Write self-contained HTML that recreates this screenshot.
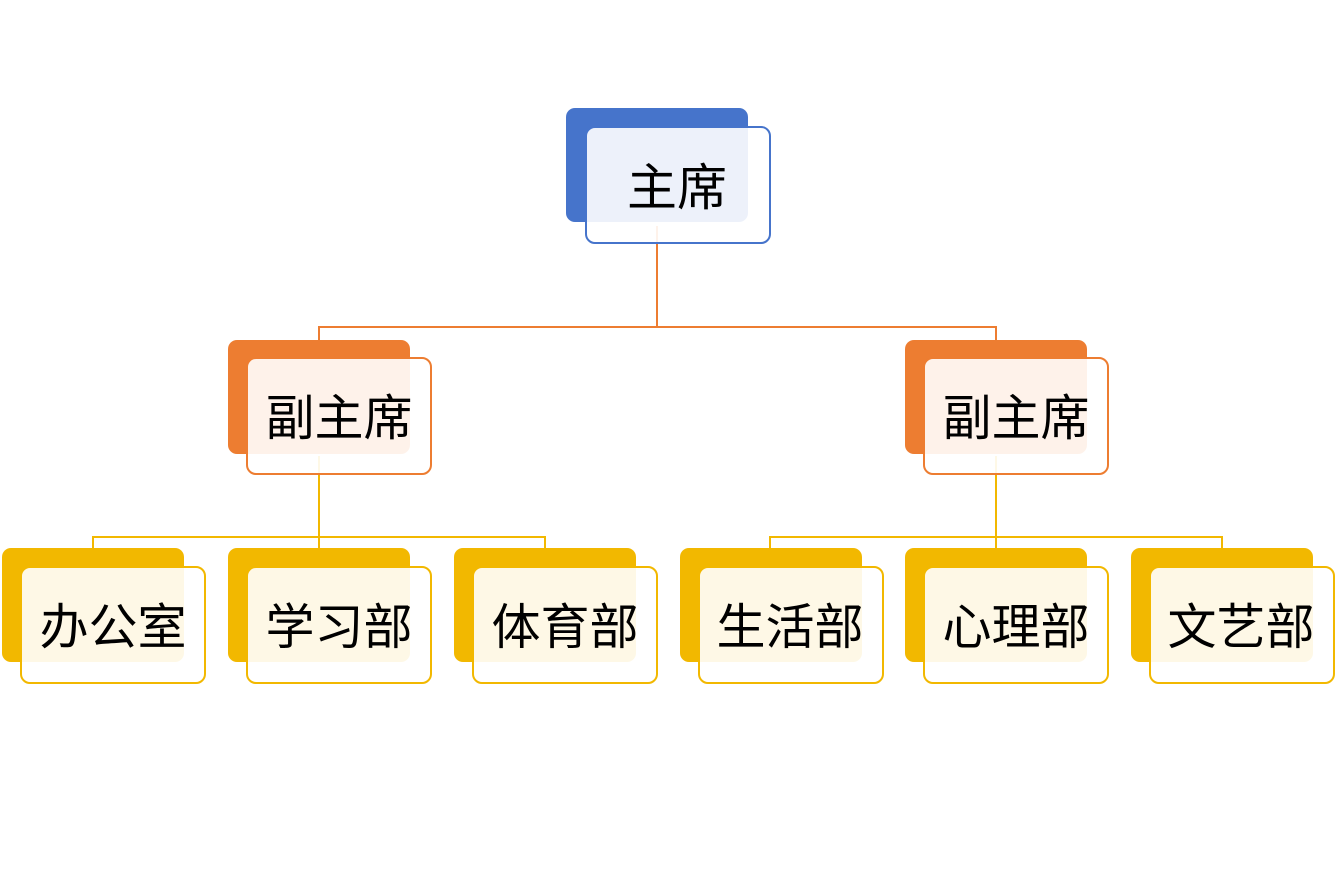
<!DOCTYPE html>
<html><head><meta charset="utf-8"><style>
html,body{margin:0;padding:0;background:#fff;}
</style></head><body>
<svg width="1336" height="889" viewBox="0 0 1336 889" xmlns="http://www.w3.org/2000/svg" style="display:block">
<g fill="none" stroke-width="2">
<path d="M657 226V327M319 340V327H996V340" stroke="#ED7D31"/>
<path d="M319 456V537M93 548V537H545V548M319 537V548" stroke="#F2B800"/>
<path d="M996 456V537M770 548V537H1222V548M996 537V548" stroke="#F2B800"/>
</g>
<g font-family="Liberation Sans, Noto Sans CJK SC, sans-serif" text-anchor="middle" fill="#000">
<rect x="566" y="108" width="182" height="114" rx="9" fill="#4674CB"/>
<rect x="586" y="127" width="184" height="116" rx="9" fill="#fff" fill-opacity="0.9" stroke="#4674CB" stroke-width="2"/>
<text x="677" y="205" font-size="50">主席</text>

<rect x="228" y="340" width="182" height="114" rx="9" fill="#ED7D31"/>
<rect x="247" y="358" width="184" height="116" rx="9" fill="#fff" fill-opacity="0.9" stroke="#ED7D31" stroke-width="2"/>
<text x="339" y="435" font-size="49">副主席</text>

<rect x="905" y="340" width="182" height="114" rx="9" fill="#ED7D31"/>
<rect x="924" y="358" width="184" height="116" rx="9" fill="#fff" fill-opacity="0.9" stroke="#ED7D31" stroke-width="2"/>
<text x="1016" y="435" font-size="49">副主席</text>

<g font-size="49">
<rect x="2" y="548" width="182" height="114" rx="9" fill="#F2B800"/>
<rect x="21" y="567" width="184" height="116" rx="9" fill="#fff" fill-opacity="0.9" stroke="#F2B800" stroke-width="2"/>
<text x="113" y="644">办公室</text>
<rect x="228" y="548" width="182" height="114" rx="9" fill="#F2B800"/>
<rect x="247" y="567" width="184" height="116" rx="9" fill="#fff" fill-opacity="0.9" stroke="#F2B800" stroke-width="2"/>
<text x="339" y="644">学习部</text>
<rect x="454" y="548" width="182" height="114" rx="9" fill="#F2B800"/>
<rect x="473" y="567" width="184" height="116" rx="9" fill="#fff" fill-opacity="0.9" stroke="#F2B800" stroke-width="2"/>
<text x="565" y="644">体育部</text>
<rect x="680" y="548" width="182" height="114" rx="9" fill="#F2B800"/>
<rect x="699" y="567" width="184" height="116" rx="9" fill="#fff" fill-opacity="0.9" stroke="#F2B800" stroke-width="2"/>
<text x="790" y="644">生活部</text>
<rect x="905" y="548" width="182" height="114" rx="9" fill="#F2B800"/>
<rect x="924" y="567" width="184" height="116" rx="9" fill="#fff" fill-opacity="0.9" stroke="#F2B800" stroke-width="2"/>
<text x="1016" y="644">心理部</text>
<rect x="1131" y="548" width="182" height="114" rx="9" fill="#F2B800"/>
<rect x="1150" y="567" width="184" height="116" rx="9" fill="#fff" fill-opacity="0.9" stroke="#F2B800" stroke-width="2"/>
<text x="1241" y="644">文艺部</text>
</g>
</g>
</svg>
</body></html>
